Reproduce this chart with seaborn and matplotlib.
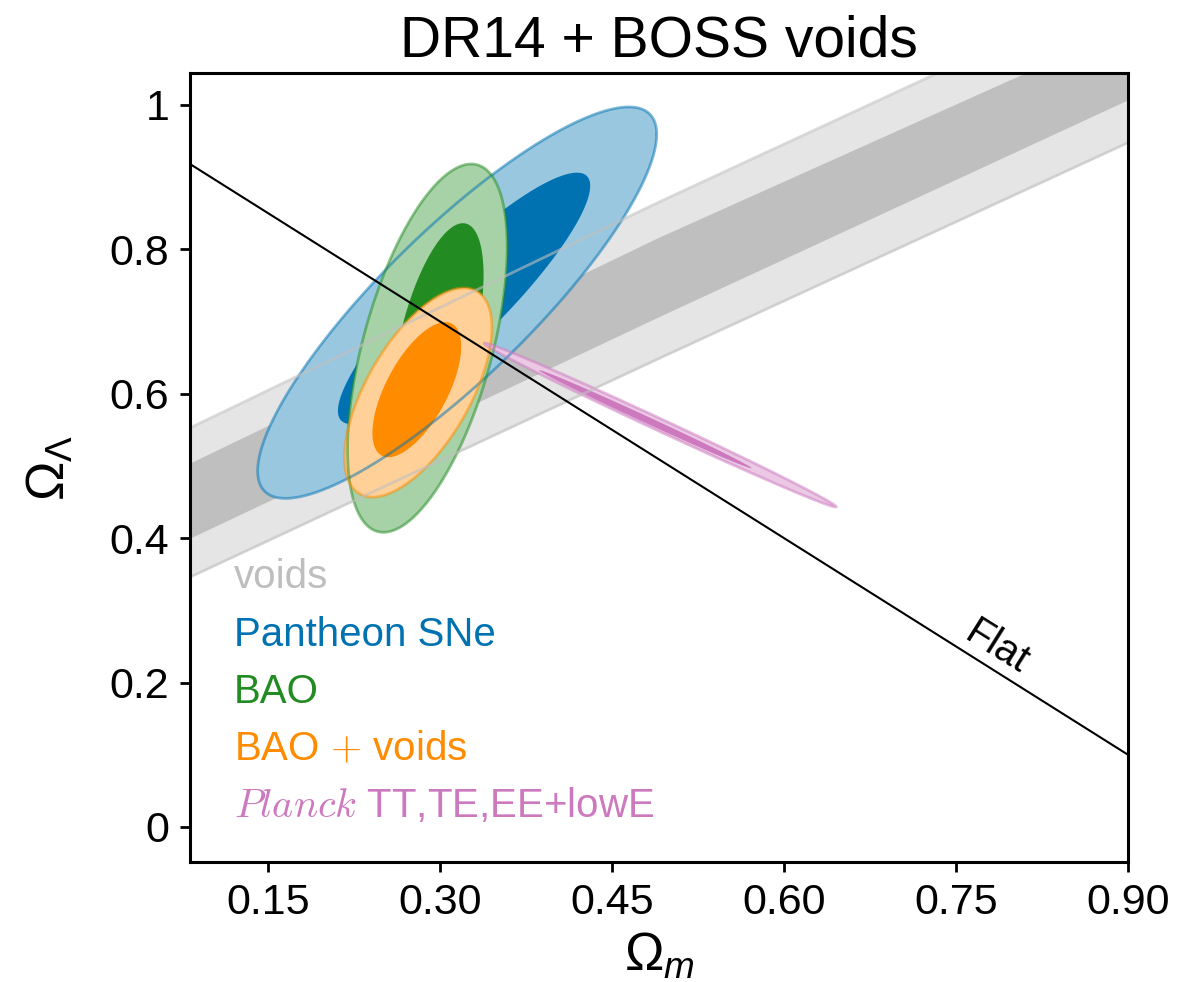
import numpy as np
import matplotlib
matplotlib.use("Agg")
import matplotlib.pyplot as plt
import seaborn as sns

# ---------------- data ----------------
# flat-universe line  Omega_L = 1 - Omega_m
flat_om = [0.0, 1.0]
flat_ol = [1.0, 0.0]

# voids degeneracy band: Omega_L of band edges at a few Omega_m values
band_om = [0.08, 0.49, 0.90]
band_2s_lo = [0.3445, 0.648, 0.9475]
band_1s_lo = [0.3985, 0.706, 1.007]
band_1s_hi = [0.5025, 0.816, 1.108]
band_2s_hi = [0.551, 0.8645, 1.166]

# contours: [centre Om, centre OL, half-extent Om, half-extent OL, correlation]
sne_outer = [0.315, 0.726, 0.174, 0.271, 0.86]
sne_inner = [0.321, 0.732, 0.110, 0.174, 0.895]
bao_outer = [0.289, 0.663, 0.0696, 0.255, 0.55]
bao_inner = [0.298, 0.676, 0.040, 0.160, 0.55]
baov_outer = [0.281, 0.6015, 0.0643, 0.1448, 0.62]
baov_inner = [0.2798, 0.6055, 0.0387, 0.0935, 0.64]
planck_outer = [0.492, 0.5565, 0.1535, 0.1135, -0.9967]
planck_inner = [0.479, 0.5647, 0.0926, 0.0679, -0.9972]

legend_labels = ["voids", "Pantheon SNe", "BAO", "BAO $+$ voids",
                 "$Planck$ TT,TE,EE+lowE"]

xtick_vals = [0.15, 0.30, 0.45, 0.60, 0.75, 0.90]
xtick_labels = ["0.15", "0.30", "0.45", "0.60", "0.75", "0.90"]
ytick_vals = [0.0, 0.2, 0.4, 0.6, 0.8, 1.0]
ytick_labels = ["0", "0.2", "0.4", "0.6", "0.8", "1"]

# ---------------- style ----------------
sns.set_theme(style="ticks")
plt.rcParams["font.family"] = ["Liberation Sans", "DejaVu Sans"]
plt.rcParams["mathtext.fontset"] = "custom"
plt.rcParams["mathtext.rm"] = "Liberation Sans"
plt.rcParams["mathtext.it"] = "Liberation Sans:italic"
plt.rcParams["mathtext.bf"] = "Liberation Sans:bold"
plt.rcParams["axes.linewidth"] = 1.1
plt.rcParams["axes.edgecolor"] = "black"
plt.rcParams["text.color"] = "black"
plt.rcParams["axes.labelcolor"] = "black"
plt.rcParams["axes.titlecolor"] = "black"
plt.rcParams["xtick.color"] = "black"
plt.rcParams["ytick.color"] = "black"

C_BLUE = "#0072b2"
C_GREEN = "#228b22"
C_ORANGE = "#ff8c00"
C_PINK = "#cd79be"
C_VOID_TXT = "#bebebe"
C_BAND_D = "#bfbfbf"
C_BAND_L = "#e5e5e5"


def light(c, a=0.4):
    rgb = np.array(matplotlib.colors.to_rgb(c))
    return tuple(1 - a * (1 - rgb))


def ellipse(p, n=600):
    cx, cy, hx, hy, r = p
    t = np.linspace(0, 2 * np.pi, n)
    x = cx + hx * np.cos(t)
    y = cy + hy * (r * np.cos(t) + np.sqrt(1 - r * r) * np.sin(t))
    return x, y


W, H, DPI = 1181, 982, 200
fig = plt.figure(figsize=(W / DPI, H / DPI), dpi=DPI)
ax = fig.add_axes([190 / W, 1 - 862 / H, (1128 - 190) / W, (862 - 73) / H])

# bands
ax.fill_between(band_om, band_2s_lo, band_2s_hi, color=C_BAND_L, lw=0, zorder=1)
ax.fill_between(band_om, band_1s_lo, band_1s_hi, color=C_BAND_D, lw=0, zorder=1.1)

# contours (filled, opaque)
z = 2
for outer, inner, col in [(sne_outer, sne_inner, C_BLUE),
                          (bao_outer, bao_inner, C_GREEN),
                          (baov_outer, baov_inner, C_ORANGE),
                          (planck_outer, planck_inner, C_PINK)]:
    xo, yo = ellipse(outer)
    ax.fill(xo, yo, color=light(col, 0.4), lw=0, zorder=z)
    xi, yi = ellipse(inner)
    ax.fill(xi, yi, color=col, lw=0, zorder=z + 0.1)
    z += 1

# outlines on top
for outer, col in [(sne_outer, C_BLUE), (bao_outer, C_GREEN),
                   (baov_outer, C_ORANGE), (planck_outer, C_PINK)]:
    xo, yo = ellipse(outer)
    ax.plot(xo, yo, color=col, alpha=0.5, lw=1.0, zorder=10)

# band outer edge lines
ax.plot(band_om, band_2s_hi, color="#c0c0c0", alpha=0.6, lw=1.0, zorder=11)
ax.plot(band_om, band_2s_lo, color="#c0c0c0", alpha=0.6, lw=1.0, zorder=11)

# flat line
sns.lineplot(x=flat_om, y=flat_ol, color="black", lw=0.75, ax=ax, zorder=20,
             legend=False)
ax.text(0.786, 0.248, "Flat", rotation=-32.1, rotation_mode="anchor",
        ha="center", va="center", fontsize=14.5, color="black", zorder=21)

# legend-like labels
leg_cols = [C_VOID_TXT, C_BLUE, C_GREEN, C_ORANGE, C_PINK]
leg_y = [0.3473, 0.2738, 0.2015, 0.1293, 0.057]
for lab, c, yy in zip(legend_labels, leg_cols, leg_y):
    ax.text(0.047, yy, lab, color=c, fontsize=14.5, transform=ax.transAxes,
            ha="left", va="baseline", math_fontfamily="cm", zorder=22)

ax.set_xlim(0.082, 0.90)
ax.set_ylim(-0.0485, 1.044)
ax.set_xticks(xtick_vals)
ax.set_xticklabels(xtick_labels)
ax.set_yticks(ytick_vals)
ax.set_yticklabels(ytick_labels)
ax.tick_params(direction="out", length=3.5, width=1.0, labelsize=15.5,
               colors="black", pad=4)
ax.set_xlabel(r"$\Omega_m$", fontsize=19, labelpad=3, color="black")
ax.set_ylabel(r"$\Omega_\Lambda$", fontsize=19, labelpad=12, color="black")
ax.set_title("DR14 + BOSS voids", fontsize=20.5, pad=6, color="black")
for s in ax.spines.values():
    s.set_visible(True)
    s.set_linewidth(1.1)
    s.set_zorder(30)

fig.savefig("out.png", dpi=DPI)
